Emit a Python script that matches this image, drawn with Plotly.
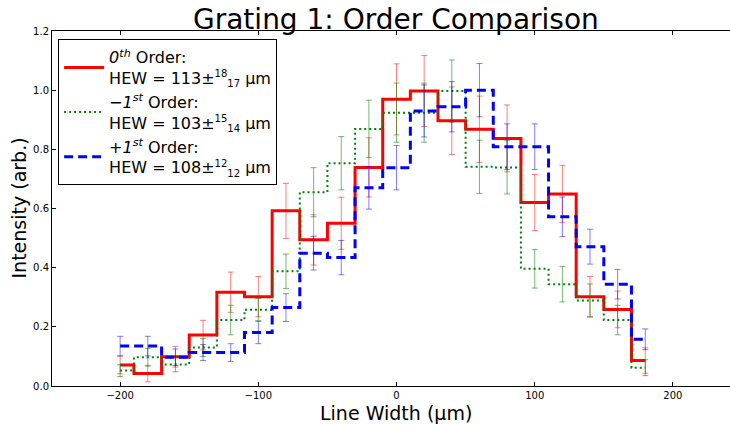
import plotly.graph_objects as go

x_vals = [-200, -180, -160, -140, -120, -100, -80, -60, -40, -20,
          0, 20, 40, 60, 80, 100, 120, 140, 160, 180]

red_vals = [0.071, 0.042, 0.099, 0.172, 0.317, 0.302, 0.592, 0.494, 0.55, 0.739,
            0.969, 0.997, 0.897, 0.868, 0.837, 0.62, 0.649, 0.302, 0.259, 0.086]
red_err = [0.03, 0.028, 0.035, 0.05, 0.068, 0.068, 0.093, 0.085, 0.088, 0.1,
           0.12, 0.12, 0.114, 0.112, 0.113, 0.095, 0.097, 0.068, 0.062, 0.043]

green_vals = [0.052, 0.097, 0.073, 0.13, 0.223, 0.258, 0.388, 0.655, 0.753, 0.869,
              0.924, 0.924, 0.997, 0.741, 0.739, 0.396, 0.344, 0.289, 0.223, 0.062]
green_err = [0.02, 0.03, 0.025, 0.03, 0.05, 0.038, 0.058, 0.083, 0.09, 0.097,
             0.1, 0.1, 0.105, 0.09, 0.09, 0.065, 0.06, 0.056, 0.05, 0.027]

blue_vals = [0.135, 0.135, 0.097, 0.113, 0.113, 0.181, 0.265, 0.449, 0.434, 0.67,
             0.738, 0.93, 0.944, 1.0, 0.809, 0.809, 0.572, 0.471, 0.344, 0.158]
blue_err = [0.033, 0.033, 0.028, 0.027, 0.03, 0.038, 0.047, 0.057, 0.058, 0.072,
            0.075, 0.088, 0.085, 0.09, 0.077, 0.077, 0.067, 0.059, 0.05, 0.035]

hew_vals = [113, 103, 108]
hew_up = [18, 15, 12]
hew_down = [17, 14, 12]
order_labels = ["0<sup>th</sup>", "−1<sup>st</sup>", "+1<sup>st</sup>"]

names = [
    f"<i>{o}</i> Order:<br>HEW = {h}±<sup><span style='font-size:10px'>{u}</span></sup>"
    f"<sub><span style='font-size:10px'>{d}</span></sub> μm"
    for o, h, u, d in zip(order_labels, hew_vals, hew_up, hew_down)
]

x_ticks = [-200, -100, 0, 100, 200]
y_ticks = [0.0, 0.2, 0.4, 0.6, 0.8, 1.0, 1.2]

FONT = "DejaVu Sans"

fig = go.Figure()
specs = [
    (red_vals, red_err, "#ff0000", "rgba(255,0,0,0.5)", "solid", 3),
    (green_vals, green_err, "#008000", "rgba(0,128,0,0.55)", "2px,3px", 2),
    (blue_vals, blue_err, "#0000ff", "rgba(0,0,255,0.5)", "9px,5px", 3),
]
for (vals, err, col, ecol, dash, lw), nm in zip(specs, names):
    fig.add_trace(go.Scatter(
        x=x_vals, y=vals, mode="lines", name=nm,
        line=dict(color=col, width=lw, dash=dash, shape="hvh"),
        error_y=dict(type="data", array=err, visible=True, color=ecol,
                     thickness=1, width=3),
    ))

fig.update_layout(
    width=730, height=425,
    margin=dict(l=52, r=0, t=31, b=39),
    paper_bgcolor="white", plot_bgcolor="white",
    font=dict(family=FONT, color="black"),
    showlegend=True,
    legend=dict(x=0.009, y=0.977, xanchor="left", yanchor="top",
                bgcolor="white", bordercolor="black", borderwidth=1,
                itemwidth=40,
                font=dict(size=16, family=FONT), tracegroupgap=4),
    xaxis=dict(range=[-249.3, 241.3], tickvals=x_ticks,
               ticktext=[str(v).replace("-", "−") for v in x_ticks],
               showgrid=False, zeroline=False, showline=True, linecolor="black",
               linewidth=1, mirror="ticks", ticks="inside", ticklen=4,
               tickcolor="black", tickfont=dict(size=10, family=FONT)),
    yaxis=dict(range=[0, 1.2], tickvals=y_ticks,
               ticktext=[f"{v:.1f}" for v in y_ticks],
               showgrid=False, zeroline=False, showline=True, linecolor="black",
               linewidth=1, ticks="inside", ticklen=4, tickcolor="black",
               tickfont=dict(size=10, family=FONT)),
    annotations=[
        dict(text="Grating 1: Order Comparison", xref="paper", yref="paper",
             x=0.507, y=1.0, yshift=12, xanchor="center", yanchor="middle",
             showarrow=False, font=dict(size=28, family=FONT)),
        dict(text="Line Width (μm)", xref="paper", yref="paper",
             x=0.507, y=0, yshift=-14, xanchor="center", yanchor="top",
             showarrow=False, font=dict(size=19, family=FONT)),
        dict(text="Intensity (arb.)", xref="paper", yref="paper",
             x=0, y=0.5, xshift=-34, xanchor="center", yanchor="middle",
             textangle=-90, showarrow=False, font=dict(size=19, family=FONT)),
    ],
)

fig.write_html("out.html")
